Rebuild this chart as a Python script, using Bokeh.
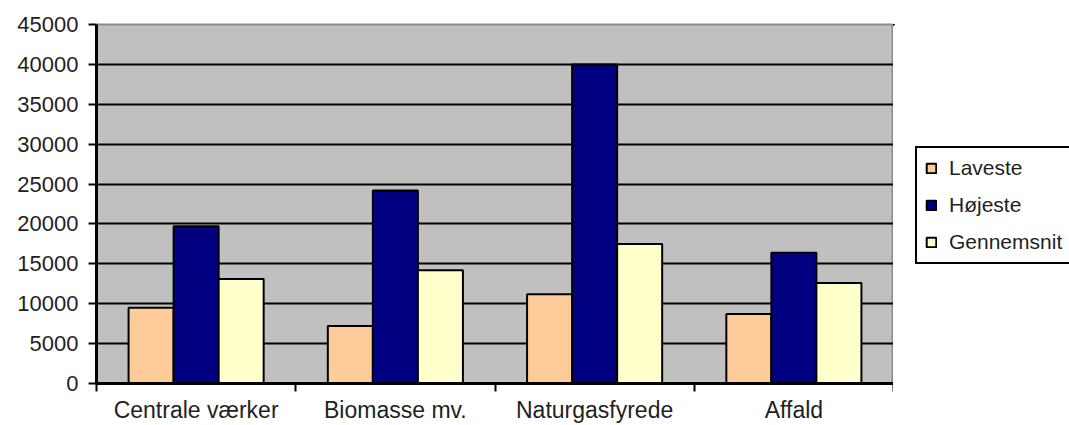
from bokeh.plotting import figure
from bokeh.layouts import row
from bokeh.models import (Range1d, FixedTicker, SingleIntervalTicker, Legend, LegendItem,
                          ColumnDataSource)
from bokeh.embed import file_html
from bokeh.resources import INLINE

categories = ["Centrale værker", "Biomasse mv.", "Naturgasfyrede", "Affald"]
series_names = ["Laveste", "Højeste", "Gennemsnit"]
laveste = [9500, 7200, 11200, 8700]
hoejeste = [19700, 24200, 40000, 16400]
gennemsnit = [13100, 14200, 17500, 12600]
colors = ["#FFCC99", "#000080", "#FFFFCC"]

FONT = "Liberation Sans"
TXT = "#1f1f1f"

p = figure(width=893, height=425, output_backend="svg", toolbar_location=None,
           x_range=Range1d(0, len(categories)), y_range=Range1d(0, 45000),
           min_border_left=96, min_border_right=0, min_border_top=24, min_border_bottom=42)

p.background_fill_color = "#C0C0C0"
p.border_fill_color = "white"
p.outline_line_color = "#8c8c8c"
p.outline_line_width = 2

bar_w = 0.226
offsets = [-bar_w, 0.0, bar_w]
all_series = [laveste, hoejeste, gennemsnit]
for name, vals, col, off in zip(series_names, all_series, colors, offsets):
    src = ColumnDataSource(dict(x=[i + 0.5 + off for i in range(len(categories))], top=vals))
    p.vbar(x="x", top="top", bottom=0, width=bar_w, source=src,
           fill_color=col, line_color="black", line_width=2)

# y axis
p.yaxis.ticker = SingleIntervalTicker(interval=5000)
p.yaxis.minor_tick_line_color = None
p.yaxis.major_tick_out = 8
p.yaxis.major_tick_in = 0
p.yaxis.major_tick_line_width = 2
p.yaxis.axis_line_width = 3
p.yaxis.axis_line_color = "black"
p.yaxis.major_label_text_font = FONT
p.yaxis.major_label_text_font_size = "22px"
p.yaxis.major_label_text_color = TXT
p.yaxis.major_label_standoff = 10

# x axis: labels centred on groups, tick marks at group boundaries
centres = [i + 0.5 for i in range(len(categories))]
bounds = list(range(len(categories) + 1))
p.xaxis.ticker = FixedTicker(ticks=centres, minor_ticks=bounds)
p.xaxis.major_label_overrides = {c: lab for c, lab in zip(centres, categories)}
p.xaxis.major_tick_line_color = None
p.xaxis.minor_tick_out = 8
p.xaxis.minor_tick_in = 0
p.xaxis.minor_tick_line_width = 2
p.xaxis.minor_tick_line_color = "black"
p.xaxis.axis_line_width = 3
p.xaxis.axis_line_color = "black"
p.xaxis.major_label_text_font = FONT
p.xaxis.major_label_text_font_size = "23px"
p.xaxis.major_label_text_color = TXT
p.xaxis.major_label_standoff = 5

p.xgrid.grid_line_color = None
p.ygrid.ticker = SingleIntervalTicker(interval=5000)
p.ygrid.grid_line_color = "black"
p.ygrid.grid_line_width = 2

# legend panel (a second, axis-less figure to the right of the chart);
# its own bars lie outside its ranges so only the legend shows
lf = figure(width=176, height=425, output_backend="svg", toolbar_location=None,
            x_axis_type=None, y_axis_type=None,
            x_range=Range1d(100, 101), y_range=Range1d(-2, -1),
            min_border_left=0, min_border_right=0, min_border_top=0, min_border_bottom=0)
lf.outline_line_color = None
lf.background_fill_color = "white"
lf.border_fill_color = "white"
lf.xgrid.grid_line_color = None
lf.ygrid.grid_line_color = None

legend_renderers = []
for name, vals, col, off in zip(series_names, all_series, colors, offsets):
    src = ColumnDataSource(dict(x=[i + 0.5 + off for i in range(len(categories))], top=vals))
    r = lf.vbar(x="x", top="top", bottom=0, width=bar_w, source=src,
                fill_color=col, line_color="black", line_width=2)
    legend_renderers.append((name, r))

legend = Legend(items=[LegendItem(label=n, renderers=[r]) for n, r in legend_renderers],
                location=(22, 119), orientation="vertical")
legend.label_text_font = FONT
legend.label_text_font_size = "21px"
legend.label_text_color = TXT
legend.glyph_width = 12
legend.glyph_height = 12
legend.label_height = 22
legend.label_standoff = 12
legend.spacing = 13
legend.padding = 8
legend.margin = 0
legend.border_line_color = "black"
legend.border_line_alpha = 1.0
legend.border_line_width = 2
legend.background_fill_color = "white"
legend.background_fill_alpha = 1
lf.add_layout(legend, "center")

layout = row(p, lf, spacing=0)
open("out.html", "w").write(file_html(layout, INLINE))
